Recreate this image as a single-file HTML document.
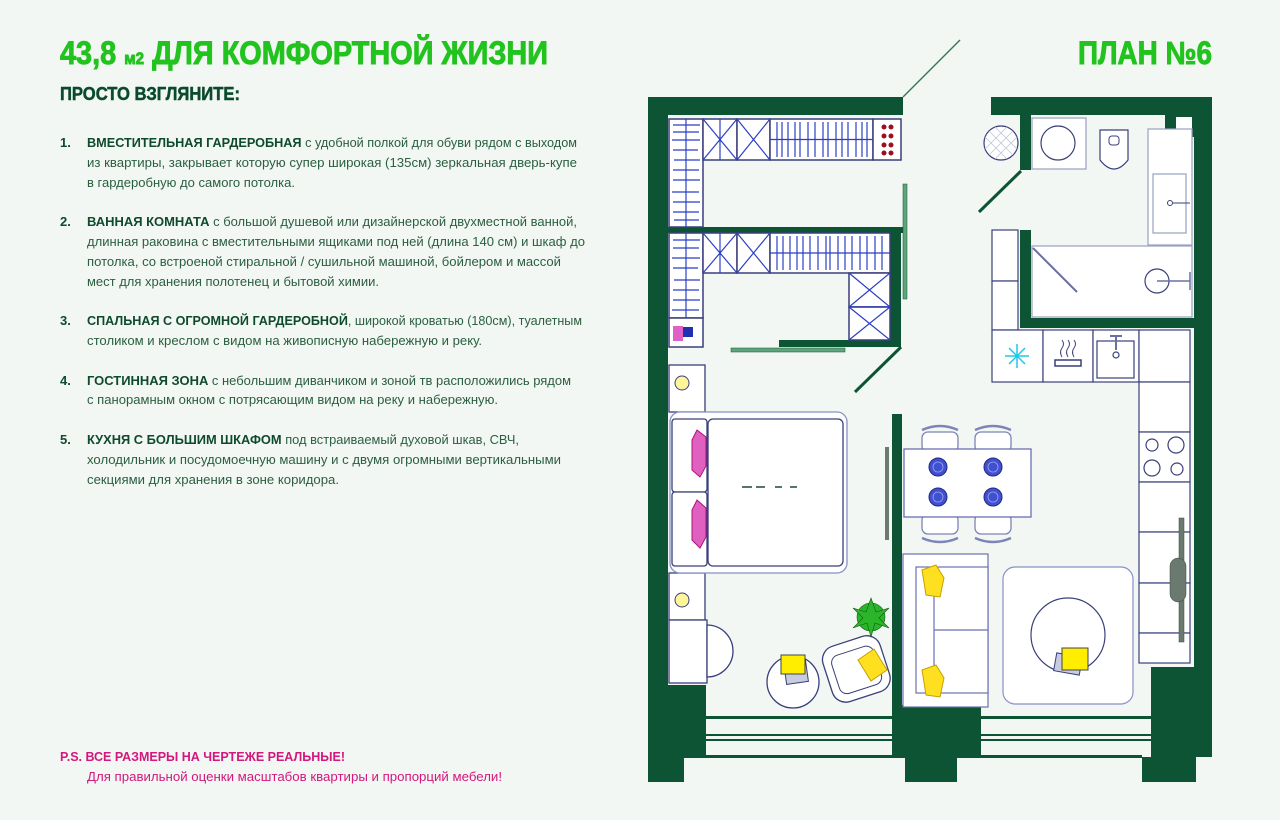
<!DOCTYPE html>
<html><head><meta charset="utf-8"><style>
html,body{margin:0;padding:0;background:#f3f7f3;}
svg{display:block;font-family:"Liberation Sans","DejaVu Sans",sans-serif;}
.b{font-size:13px;fill:#2a5f40;}
.bb{font-weight:bold;fill:#0e4a2c;}
.n{font-size:13px;font-weight:bold;fill:#0e4a2c;}
</style></head><body>
<svg width="1280" height="820" viewBox="0 0 1280 820" xmlns="http://www.w3.org/2000/svg">
<rect width="1280" height="820" fill="#f3f7f3"/>
<!-- TEXT -->
<text x="60" y="64" font-size="32" font-weight="bold" fill="#22c31e" stroke="#22c31e" stroke-width="0.9" textLength="488" lengthAdjust="spacingAndGlyphs">43,8 <tspan font-size="17">м2</tspan> ДЛЯ КОМФОРТНОЙ ЖИЗНИ</text>
<text x="1078" y="64" font-size="32" font-weight="bold" fill="#22c31e" stroke="#22c31e" stroke-width="0.9" textLength="134" lengthAdjust="spacingAndGlyphs">ПЛАН №6</text>
<text x="60" y="100" font-size="18" font-weight="bold" fill="#0b4a2c" stroke="#0b4a2c" stroke-width="0.5" textLength="180" lengthAdjust="spacingAndGlyphs">ПРОСТО ВЗГЛЯНИТЕ:</text>

<text class="n" x="60" y="147">1.</text>
<text class="b" x="87" y="147" textLength="490" lengthAdjust="spacingAndGlyphs"><tspan class="bb">ВМЕСТИТЕЛЬНАЯ ГАРДЕРОБНАЯ</tspan> с удобной полкой для обуви рядом с выходом</text>
<text class="b" x="87" y="167" textLength="490" lengthAdjust="spacingAndGlyphs">из квартиры, закрывает которую супер широкая (135см) зеркальная дверь-купе</text>
<text class="b" x="87" y="187" textLength="208" lengthAdjust="spacingAndGlyphs">в гардеробную до самого потолка.</text>

<text class="n" x="60" y="226">2.</text>
<text class="b" x="87" y="226" textLength="490" lengthAdjust="spacingAndGlyphs"><tspan class="bb">ВАННАЯ КОМНАТА</tspan> с большой душевой или дизайнерской двухместной ванной,</text>
<text class="b" x="87" y="246" textLength="498" lengthAdjust="spacingAndGlyphs">длинная раковина с вместительными ящиками под ней (длина 140 см) и шкаф до</text>
<text class="b" x="87" y="266" textLength="474" lengthAdjust="spacingAndGlyphs">потолка, со встроеной стиральной / сушильной машиной, бойлером и массой</text>
<text class="b" x="87" y="286" textLength="292" lengthAdjust="spacingAndGlyphs">мест для хранения полотенец и бытовой химии.</text>

<text class="n" x="60" y="325">3.</text>
<text class="b" x="87" y="325" textLength="495" lengthAdjust="spacingAndGlyphs"><tspan class="bb">СПАЛЬНАЯ С ОГРОМНОЙ ГАРДЕРОБНОЙ</tspan>, широкой кроватью (180см), туалетным</text>
<text class="b" x="87" y="345" textLength="395" lengthAdjust="spacingAndGlyphs">столиком и креслом с видом на живописную набережную и реку.</text>

<text class="n" x="60" y="385">4.</text>
<text class="b" x="87" y="385" textLength="484" lengthAdjust="spacingAndGlyphs"><tspan class="bb">ГОСТИННАЯ ЗОНА</tspan> с небольшим диванчиком и зоной тв расположились рядом</text>
<text class="b" x="87" y="404" textLength="411" lengthAdjust="spacingAndGlyphs">с панорамным окном с потрясающим видом на реку и набережную.</text>

<text class="n" x="60" y="444">5.</text>
<text class="b" x="87" y="444" textLength="432" lengthAdjust="spacingAndGlyphs"><tspan class="bb">КУХНЯ С БОЛЬШИМ ШКАФОМ</tspan> под встраиваемый духовой шкав, СВЧ,</text>
<text class="b" x="87" y="464" textLength="474" lengthAdjust="spacingAndGlyphs">холодильник и посудомоечную машину и с двумя огромными вертикальными</text>
<text class="b" x="87" y="484" textLength="252" lengthAdjust="spacingAndGlyphs">секциями для хранения в зоне коридора.</text>

<text x="60" y="761" font-size="13" font-weight="bold" fill="#d3177e" textLength="285" lengthAdjust="spacingAndGlyphs">P.S. ВСЕ РАЗМЕРЫ НА ЧЕРТЕЖЕ РЕАЛЬНЫЕ!</text>
<text x="87" y="781" font-size="13" fill="#d3177e" textLength="415" lengthAdjust="spacingAndGlyphs">Для правильной оценки масштабов квартиры и пропорций мебели!</text>

<!-- PLAN -->
<g fill="#0c5434">
<rect x="648" y="97" width="20" height="685"/>
<rect x="648" y="97" width="255" height="18"/>
<rect x="648" y="685" width="58" height="72"/>
<rect x="648" y="757" width="36" height="25"/>
<rect x="991" y="97" width="221" height="18"/>
<rect x="1194" y="97" width="18" height="660"/>
<rect x="1165" y="115" width="47" height="22"/>
<rect x="1020" y="97" width="11" height="73"/>
<rect x="1020" y="230" width="11" height="98"/>
<rect x="1020" y="318" width="174" height="10"/>
<rect x="668" y="227" width="235" height="6"/>
<rect x="890" y="227" width="11" height="120"/>
<rect x="779" y="340" width="122" height="7"/>
<rect x="892" y="414" width="10" height="300"/>
<rect x="892" y="705" width="89" height="52"/>
<rect x="905" y="757" width="52" height="25"/>
<rect x="1151" y="667" width="61" height="90"/>
<rect x="1142" y="757" width="54" height="25"/>
<rect x="706" y="716" width="186" height="3"/>
<rect x="981" y="716" width="170" height="3"/>
<rect x="706" y="734" width="186" height="2"/>
<rect x="706" y="739" width="186" height="2"/>
<rect x="981" y="734" width="170" height="2"/>
<rect x="981" y="739" width="170" height="2"/>
<rect x="684" y="755" width="458" height="3"/>
</g>
<rect x="1176" y="117" width="16" height="12" fill="#fff"/>
<g stroke="#0c5434" stroke-width="3" fill="none">
<line x1="901" y1="347" x2="855" y2="392"/>
<line x1="1021" y1="171" x2="979" y2="212"/>
</g>
<line x1="903" y1="97" x2="960" y2="40" stroke="#3d7a58" stroke-width="1.5"/>
<rect x="903" y="184" width="4" height="115" fill="#5fa57c" stroke="#0c5434" stroke-width="0.5"/>
<rect x="731" y="348" width="114" height="4" fill="#5fa57c" stroke="#0c5434" stroke-width="0.5"/>

<!-- wardrobe -->
<g fill="#fff" stroke="#3a3f7a" stroke-width="1.5">
<rect x="669" y="119" width="34" height="108"/>
<rect x="703" y="119" width="34" height="41"/>
<rect x="737" y="119" width="33" height="41"/>
<rect x="770" y="119" width="103" height="41"/>
<rect x="873" y="119" width="28" height="41"/>
<rect x="669" y="233" width="34" height="85"/>
<rect x="669" y="318" width="34" height="29"/>
<rect x="703" y="233" width="34" height="40"/>
<rect x="737" y="233" width="33" height="40"/>
<rect x="770" y="233" width="120" height="40"/>
<rect x="849" y="273" width="41" height="34"/>
<rect x="849" y="307" width="41" height="33"/>
</g>
<g stroke="#2b3fc4" stroke-width="1.2">
<path d="M703 119L737 160M737 119L703 160M737 119L770 160M770 119L737 160M720 119V160"/>
<path d="M703 233L737 273M737 233L703 273M737 233L770 273M770 233L737 273M720 233V273"/>
<path d="M849 273L890 307M890 273L849 307M849 307L890 340M890 307L849 340M849 307H890"/>
<path d="M686 119V227M686 233V318M770 139.5H873M770 253H890"/>
<path d="M673 125H700M673 132H699M672 140H700M673 150H698M674 160H700M673 170H699M673 180H700M672 192H699M673 202H700M673 212H699M674 220H699"/>
<path d="M673 240H700M673 248H699M672 258H700M673 268H698M674 280H700M673 290H699M673 300H700M672 310H699"/>
<path d="M777 122V157M782 122V157M788 122V157M795 122V157M800 122V157M808 122V157M815 122V157M823 122V157M828 122V157M836 122V157M842 122V157M848 122V157M856 122V157M862 122V157M867 122V157"/>
<path d="M777 236V270M783 236V270M790 236V270M797 236V270M803 236V270M810 236V270M818 236V270M826 236V270M830 236V270M838 236V270M845 236V270M852 236V270M860 236V270M867 236V270M875 236V270M882 236V270"/>
</g>
<g fill="#9b1020"><circle cx="884" cy="127" r="2.5"/><circle cx="891" cy="127" r="2.5"/><circle cx="884" cy="136" r="2.5"/><circle cx="891" cy="136" r="2.5"/><circle cx="884" cy="145" r="2.5"/><circle cx="891" cy="145" r="2.5"/><circle cx="884" cy="153" r="2.5"/><circle cx="891" cy="153" r="2.5"/></g>
<rect x="673" y="326" width="10" height="15" fill="#e060c8"/><rect x="683" y="327" width="10" height="10" fill="#2030b0"/>

<!-- bedroom -->
<g fill="#fff" stroke="#3a3f7a" stroke-width="1.3">
<rect x="669" y="365" width="36" height="47"/>
<rect x="669" y="573" width="36" height="47"/>
<rect x="669" y="620" width="38" height="63"/>
<rect x="670" y="412" width="177" height="161" rx="10" stroke="#8890c8"/>
<rect x="708" y="419" width="135" height="147" rx="5"/>
<rect x="672" y="419" width="35" height="73" rx="3"/>
<rect x="672" y="492" width="35" height="74" rx="3"/>
</g>
<path d="M707 625A26 26 0 0 1 707 677Z" fill="#fff" stroke="#3a3f7a" stroke-width="1.3"/>
<g fill="#fff59a" stroke="#3a3f7a"><circle cx="682" cy="383" r="7"/><circle cx="682" cy="600" r="7"/></g>
<path d="M697 430L706 437V466L700 477L692 470V440Z" fill="#e060c0" stroke="#b0107a"/>
<path d="M697 500L706 508V537L700 548L692 540V510Z" fill="#e060c0" stroke="#b0107a"/>
<path d="M742 487H752M756 487H765M775 487H782M790 487H797" stroke="#1c4a34" stroke-width="1.5"/>
<rect x="885" y="447" width="4" height="93" fill="#6a7a70"/>
<circle cx="793" cy="682" r="26" fill="#fff" stroke="#3a3f7a" stroke-width="1.3"/>
<rect x="785" y="661" width="22" height="22" fill="#c8cce0" stroke="#3a3f7a" transform="rotate(-8 796 672)"/>
<rect x="781" y="655" width="24" height="19" fill="#ffee00" stroke="#444"/>
<g transform="rotate(-18 856 668)"><rect x="826" y="640" width="60" height="58" rx="14" fill="#fff" stroke="#3a3f7a" stroke-width="1.3"/><rect x="834" y="650" width="44" height="40" rx="8" fill="#fff" stroke="#3a3f7a"/></g>
<path d="M858 660L874 649L887 670L871 681Z" fill="#ffe020" stroke="#c8a000"/>
<g fill="#2ab52a" stroke="#106010" stroke-width="0.6"><circle cx="871" cy="617" r="14"/><path d="M871 598L876 612L889 608L879 618L889 628L875 623L871 637L867 623L853 628L863 618L853 608L866 612Z"/></g>

<!-- dining -->
<g fill="#fff" stroke="#7d84b8" stroke-width="1.3">
<rect x="922" y="432" width="36" height="20" rx="6"/><rect x="975" y="432" width="36" height="20" rx="6"/>
<rect x="922" y="514" width="36" height="20" rx="6"/><rect x="975" y="514" width="36" height="20" rx="6"/>
<rect x="904" y="449" width="127" height="68" stroke="#6a70b0"/>
</g>
<g fill="none" stroke="#7d84b8" stroke-width="2.5"><path d="M922 430Q940 422 958 430M975 430Q993 422 1011 430M922 538Q940 546 958 538M975 538Q993 546 1011 538"/></g>
<g fill="#4050d0" stroke="#202a80"><circle cx="938" cy="467" r="9"/><circle cx="993" cy="467" r="9"/><circle cx="938" cy="497" r="9"/><circle cx="993" cy="497" r="9"/></g>
<g fill="none" stroke="#9aa4f0" stroke-width="0.8"><circle cx="938" cy="467" r="5"/><circle cx="993" cy="467" r="5"/><circle cx="938" cy="497" r="5"/><circle cx="993" cy="497" r="5"/></g>

<!-- sofa & rug -->
<g fill="#fff" stroke="#6a70b0" stroke-width="1.2">
<rect x="903" y="554" width="85" height="153"/>
<rect x="916" y="567" width="72" height="126"/>
<path d="M934 567V693M934 630H988" fill="none"/>
<rect x="1003" y="567" width="130" height="137" rx="12" stroke="#8890c8"/>
<circle cx="1068" cy="635" r="37" stroke="#3a3f7a"/>
</g>
<path d="M922 570L936 565L944 578L940 597L926 595Z" fill="#ffe020" stroke="#c8a000"/>
<path d="M922 670L936 665L944 678L940 697L926 695Z" fill="#ffe020" stroke="#c8a000"/>
<rect x="1055" y="655" width="26" height="18" fill="#c8cce0" stroke="#3a3f7a" transform="rotate(10 1068 664)"/>
<rect x="1062" y="648" width="26" height="22" fill="#ffee00" stroke="#444"/>

<!-- bathroom -->
<g fill="#fff" stroke="#3a3f7a" stroke-width="1.2">
<rect x="1032" y="118" width="54" height="51" stroke="#9aa0c0"/>
<circle cx="1058" cy="143" r="17"/>
<circle cx="1001" cy="143" r="17"/>
<path d="M1100 130H1128V160Q1114 178 1100 160Z"/>
<rect x="1148" y="129" width="44" height="116" stroke="#9aa0c0"/>
<rect x="1153" y="174" width="33" height="59" stroke="#9aa0c0"/>
<rect x="1032" y="246" width="160" height="71" stroke="#9aa0c0"/>
<circle cx="1157" cy="281" r="12"/>
</g>
<path d="M989 131L1013 155M995 127L1017 149M985 137L1007 159M1013 131L989 155M1007 127L985 149M1017 137L995 159" stroke="#c0c4d8" stroke-width="0.8"/>
<rect x="1109" y="136" width="10" height="9" rx="3" fill="none" stroke="#3a3f7a"/>
<circle cx="1170" cy="203" r="2.5" fill="none" stroke="#3a3f7a"/><path d="M1173 203H1190" stroke="#3a3f7a"/>
<path d="M1033 248L1077 292" stroke="#6a70a0" stroke-width="2"/>
<path d="M1157 281H1190M1190 272V290" stroke="#6a70a0" stroke-width="1.5"/>

<!-- kitchen -->
<g fill="#fff" stroke="#3a3f7a" stroke-width="1.2">
<rect x="992" y="230" width="26" height="51"/><rect x="992" y="281" width="26" height="49"/>
<rect x="992" y="330" width="51" height="52"/><rect x="1043" y="330" width="50" height="52"/>
<rect x="1093" y="330" width="46" height="52"/><rect x="1139" y="330" width="51" height="52"/>
<rect x="1139" y="382" width="51" height="50"/><rect x="1139" y="432" width="51" height="50"/>
<rect x="1139" y="482" width="51" height="50"/><rect x="1139" y="532" width="51" height="51"/>
<rect x="1139" y="583" width="51" height="50"/><rect x="1139" y="633" width="51" height="30"/>
<rect x="1097" y="341" width="37" height="37"/>
<circle cx="1152" cy="445" r="6"/><circle cx="1176" cy="445" r="8"/><circle cx="1152" cy="468" r="8"/><circle cx="1177" cy="469" r="6"/>
<circle cx="1116" cy="355" r="3"/>
</g>
<path d="M1116 336V350M1110 336H1122" stroke="#6a70a0" stroke-width="2"/>
<g stroke="#20c8e8" stroke-width="1.5"><path d="M1017 344V368M1005 356H1029M1009 348L1025 364M1025 348L1009 364"/></g>
<rect x="1055" y="360" width="26" height="6" fill="none" stroke="#3a3f7a" stroke-width="1.5"/>
<path d="M1062 357Q1059 352 1062 348Q1065 344 1062 340M1068 357Q1065 352 1068 348Q1071 344 1068 340M1074 357Q1071 352 1074 348Q1077 344 1074 340" stroke="#3a3f7a" fill="none"/>
<rect x="1179" y="518" width="5" height="124" fill="#6a7a70" stroke="#3a4a40" stroke-width="0.5"/>
<rect x="1170" y="558" width="16" height="44" rx="8" fill="#6a7a70" stroke="#3a4a40" stroke-width="0.5"/>
</svg>
</body></html>
